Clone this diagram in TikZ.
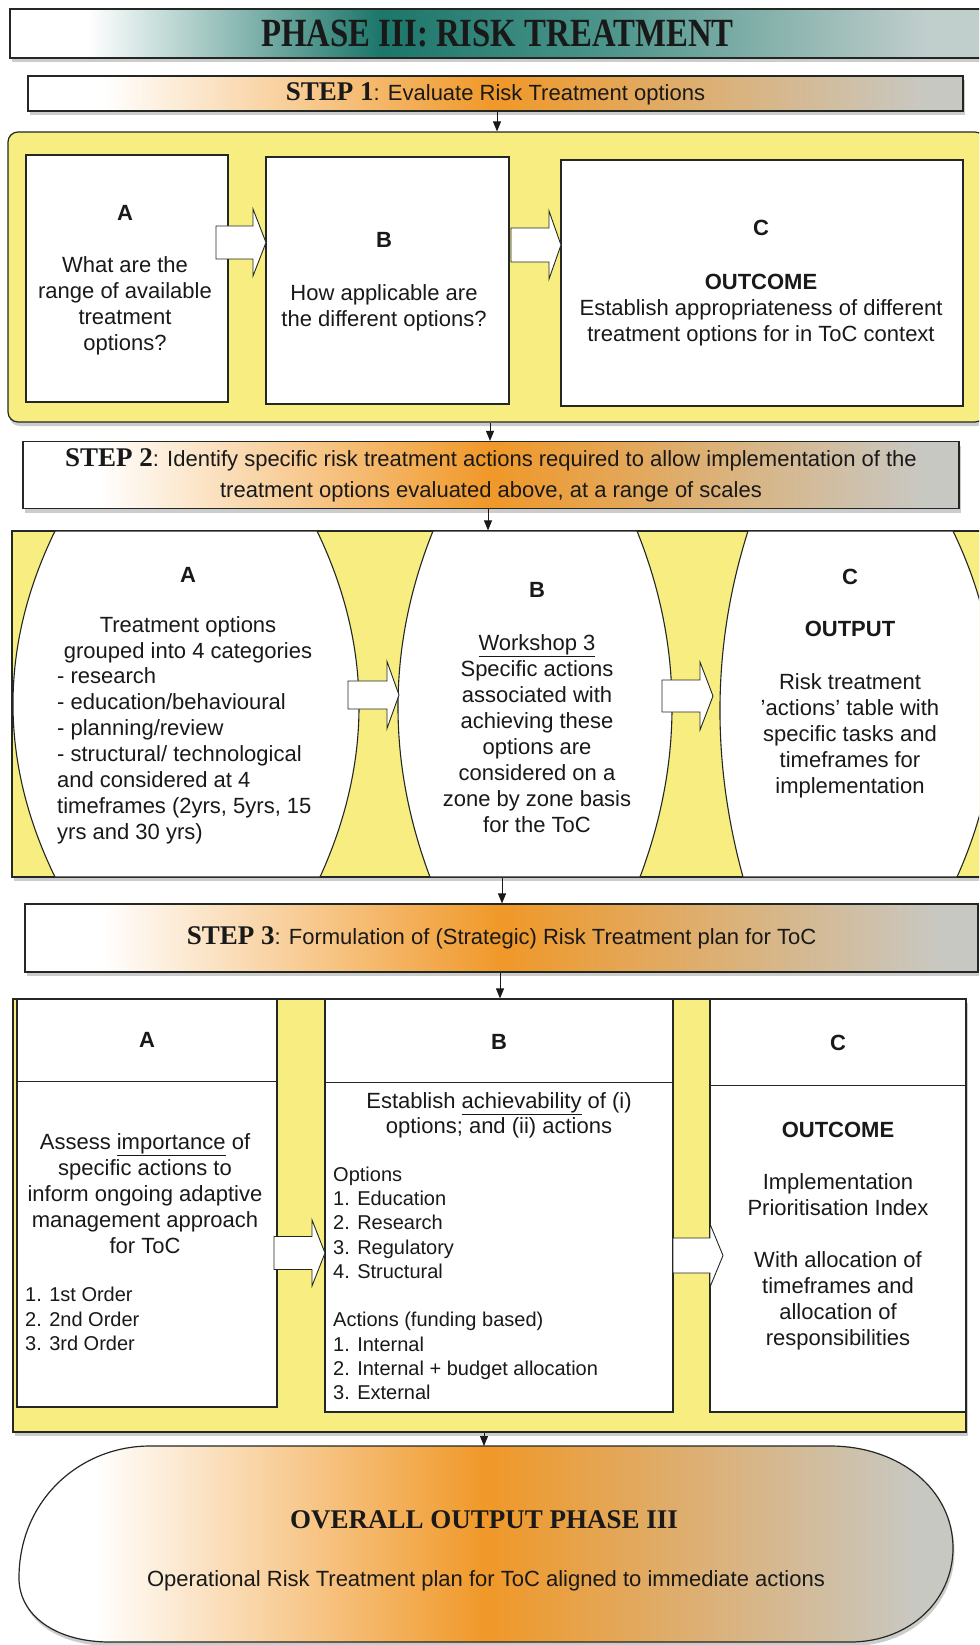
\documentclass[tikz,border=0pt]{standalone}
\usepackage{fontspec}
\setmainfont{Liberation Sans}
\newfontfamily\headfont{Liberation Serif}
\newfontfamily\titlefont{Liberation Serif}[FakeStretch=0.82]
\usetikzlibrary{arrows.meta,shadows,calc}

\definecolor{panelyellow}{RGB}{247,237,128}
\definecolor{stepor}{RGB}{240,152,40}
\definecolor{stepgray}{RGB}{200,200,194}
\definecolor{tealdark}{RGB}{28,118,106}
\definecolor{tealmid}{RGB}{78,150,140}
\definecolor{tealgray}{RGB}{192,206,204}
\definecolor{inkline}{RGB}{35,40,35}
\definecolor{ink}{RGB}{25,25,25}

% white -> orange -> grey band used by the step bars and the final output
\pgfdeclarehorizontalshading{stepshade}{100bp}{%
  color(0bp)=(white); color(25bp)=(white); color(29bp)=(white);
  color(50bp)=(stepor); color(73bp)=(stepgray); color(100bp)=(stepgray)}
% white -> teal -> grey band of the phase banner
\pgfdeclarehorizontalshading{titleshade}{100bp}{%
  color(0bp)=(white); color(25bp)=(white); color(29bp)=(white);
  color(44bp)=(tealdark); color(56bp)=(tealmid); color(72bp)=(tealgray);
  color(100bp)=(tealgray)}

\newcommand\stephead[1]{{\headfont\bfseries\fontsize{27}{30}\selectfont #1}}
% block arrow: body from x=#1 to x=#2, tip at x=#3, axis y=#4,
% body half height #5, head half height #6
\newcommand\blockarrow[6]{%
  \draw[blockarrowstyle] (#1,#4-#5) -- (#2,#4-#5) -- (#2,#4-#6) -- (#3,#4)
    -- (#2,#4+#6) -- (#2,#4+#5) -- (#1,#4+#5) -- cycle;}
% barrel between y=531 and y=877: left top/bottom x, left bulge,
% right top/bottom x, right bulge
\newcommand\barrel[6]{%
  \draw[barrelstyle] (#1,531) -- (#4,531)
    .. controls ({(#4+#5)/2+4*#6/3},646) and ({(#4+#5)/2+4*#6/3},762) .. (#5,877)
    -- (#2,877)
    .. controls ({(#1+#2)/2-4*#3/3},762) and ({(#1+#2)/2-4*#3/3},646) .. (#1,531)
    -- cycle;}

\begin{document}
\begin{tikzpicture}[x=1pt,y=-1pt,
  body/.style={font=\fontsize{22}{26}\selectfont, text=ink, inner sep=0pt, align=center},
  listtext/.style={font=\fontsize{20}{24.3}\selectfont, text=ink, inner sep=0pt, align=left},
  frame/.style={draw=inkline, line width=1.2pt},
  shadowed/.style={drop shadow={opacity=0.4, shadow xshift=1.5pt, shadow yshift=-4pt}},
  stepbox/.style={frame, shade, shading=stepshade, shadowed, inner sep=0pt, text=ink,
    font=\fontsize{22}{31}\selectfont, align=center},
  whitebox/.style={frame, fill=white, inner sep=0pt},
  panel/.style={frame, fill=panelyellow, shadowed, inner sep=0pt},
  barrelstyle/.style={draw=inkline, line width=1.1pt, fill=white},
  blockarrowstyle/.style={draw=inkline, line width=0.9pt, fill=white, line join=miter},
  conn/.style={draw=ink, line width=1pt, -{Triangle[width=8pt,length=10pt]}},
]
\useasboundingbox (0,0) rectangle (979,1645);
\fill[white] (0,0) rectangle (979,1645);
\clip (0,0) rectangle (979,1645);

% ---------- banner ----------
\node[frame, shade, shading=titleshade, shadowed, minimum width=975pt,
  minimum height=49pt, inner sep=0pt, text=ink,
  font=\titlefont\bfseries\fontsize{40}{44}\selectfont] (title) at (497.5,33.5)
  {PHASE III: RISK TREATMENT};

% ---------- step 1 ----------
\node[stepbox, minimum width=935pt, minimum height=35pt] (step1) at (495.5,93.5)
  {\stephead{STEP 1}: Evaluate Risk Treatment options};

\node[panel, rounded corners=10pt, minimum width=977pt, minimum height=290pt]
  (panel1) at (496.5,277) {};
\coordinate (k1) at ([xshift=1.5pt]step1.south);
\draw[conn] (k1) -- (k1 |- panel1.north);

\node[whitebox, minimum width=202pt, minimum height=247pt] (boxA1) at (127,278.5) {};
\node[whitebox, minimum width=243pt, minimum height=247pt] (boxB1) at (387.5,280.5) {};
\node[whitebox, minimum width=402pt, minimum height=246pt] (boxC1) at (762,283) {};

\node[body, anchor=north] (txtA1) at (125,205)
  {\textbf{A}\\[26pt] What are the\\ range of available\\ treatment\\ options?};
\node[body, anchor=north] (txtB1) at (384,232)
  {\textbf{B}\\[27pt] How applicable are\\ the different options?};
\node[body, anchor=north] (txtC1) at (761,220)
  {\textbf{C}\\[28pt] \textbf{OUTCOME}\\ Establish appropriateness of different\\
   treatment options for in ToC context};

\blockarrow{216}{253}{266}{242.5}{16.5}{33.5}
\blockarrow{511}{549}{561}{245}{17}{34}

% ---------- step 2 ----------
\node[stepbox, minimum width=936pt, minimum height=67pt] (step2) at (491,475)
  {\stephead{STEP 2}: Identify specific risk treatment actions required to allow implementation of the\\
   treatment options evaluated above, at a range of scales};
\coordinate (k2) at ([xshift=-6.5pt]panel1.south);
\draw[conn] (k2) -- (k2 |- step2.north);

\node[panel, minimum width=973pt, minimum height=346pt] (panel2) at (498.5,704) {};
\coordinate (k3) at ([xshift=-3pt]step2.south);
\draw[conn] (k3) -- (k3 |- panel2.north);

\barrel{55}{55}{42}{317}{320}{40.5}
\barrel{433}{430}{33.5}{637}{640}{33.5}
\barrel{748}{743}{25.5}{953}{957}{40}

\node[body, anchor=north] (txtA2) at (188,567)
  {\textbf{A}\\[24pt] Treatment options\\ grouped into 4 categories};
\node[body, align=left, anchor=north west] (listA2) at (57,667.5)
  {- research\\ - education/behavioural\\ - planning/review\\ - structural/ technological\\
   and considered at 4\\ timeframes (2yrs, 5yrs, 15\\ yrs and 30 yrs)};
\node[body, anchor=north] (txtB2) at (537,582)
  {\textbf{B}\\[27pt] \underline{Workshop 3}\\ Specific actions\\ associated with\\ achieving these\\
   options are\\ considered on a\\ zone by zone basis\\ for the ToC};
\node[body, anchor=north] (txtC2) at (850,569)
  {\textbf{C}\\[26pt] \textbf{OUTPUT}\\[27pt] Risk treatment\\ 'actions' table with\\
   specific tasks and\\ timeframes for\\ implementation};

\blockarrow{348}{387}{399}{695}{14}{33.5}
\blockarrow{662}{700}{713}{696}{16}{34}

% ---------- step 3 ----------
\node[stepbox, minimum width=953pt, minimum height=68pt] (step3) at (501.5,938)
  {\stephead{STEP 3}: Formulation of (Strategic) Risk Treatment plan for ToC};
\coordinate (k4) at ([xshift=3.5pt]panel2.south);
\draw[conn] (k4) -- (k4 |- step3.north);

\node[panel, minimum width=953pt, minimum height=433pt] (panel3) at (489.5,1215.5) {};
\coordinate (k5) at ([xshift=-1.5pt]step3.south);
\draw[conn] (k5) -- (k5 |- panel3.north);

\node[whitebox, minimum width=260pt, minimum height=408pt] (boxA3) at (147,1203) {};
\node[whitebox, minimum width=348pt, minimum height=413pt] (boxB3) at (499,1205.5) {};
\node[whitebox, minimum width=256pt, minimum height=413pt] (boxC3) at (838,1205.5) {};
\draw[frame] ($(boxA3.north west)+(0,83)$) -- ($(boxA3.north east)+(0,83)$);
\draw[frame] ($(boxB3.north west)+(0,84)$) -- ($(boxB3.north east)+(0,84)$);
\draw[frame] ($(boxC3.north west)+(0,87)$) -- ($(boxC3.north east)+(0,87)$);

\node[body, font=\bfseries\fontsize{22}{26}\selectfont] (headA3) at (147,1040) {A};
\node[body, font=\bfseries\fontsize{22}{26}\selectfont] (headB3) at (499,1042) {B};
\node[body, font=\bfseries\fontsize{22}{26}\selectfont] (headC3) at (838,1043) {C};

\node[body, anchor=north] (txtA3) at (145,1133.5)
  {Assess \underline{importance} of\\ specific actions to\\ inform ongoing adaptive\\
   management approach\\ for ToC};
\node[listtext, anchor=north west] (listA3) at (25,1287)
  {1. 1st Order\\ 2. 2nd Order\\ 3. 3rd Order};
\node[body, anchor=north, font=\fontsize{22}{25}\selectfont] (txtB3) at (499,1092.5)
  {Establish \underline{achievability} of (i)\\ options; and (ii) actions};
\node[listtext, anchor=north west] (listB3) at (333,1166.5)
  {Options\\ 1. Education\\ 2. Research\\ 3. Regulatory\\ 4. Structural\\[24.2pt]
   Actions (funding based)\\ 1. Internal\\ 2. Internal + budget allocation\\ 3. External};
\node[body, anchor=north] (txtC3) at (838,1122)
  {\textbf{OUTCOME}\\[26pt] Implementation\\ Prioritisation Index\\[26pt]
   With allocation of\\ timeframes and\\ allocation of\\ responsibilities};

\blockarrow{274}{312}{325}{1253}{16.5}{33}
\blockarrow{673}{710}{723}{1255.5}{17.5}{31.5}

% ---------- overall output ----------
\path[frame, shade, shading=stepshade, shadowed]
  (150,1446) -- (830,1446)
  .. controls (900,1446) and (953,1490) .. (953,1548)
  .. controls (953,1600) and (910,1642) .. (850,1642)
  -- (110,1642)
  .. controls (55,1642) and (19,1615) .. (19,1578)
  .. controls (19,1500) and (80,1446) .. (150,1446) -- cycle;
\coordinate (ovaltop) at (484,1446);
\coordinate (k6) at ([xshift=-5.5pt]panel3.south);
\draw[conn] (k6) -- (k6 |- ovaltop);

\node[text=ink, inner sep=0pt, font=\headfont\bfseries\fontsize{27}{30}\selectfont]
  (overall) at (484,1520) {OVERALL OUTPUT PHASE III};
\node[body] (overalltxt) at (486,1581)
  {Operational Risk Treatment plan for ToC aligned to immediate actions};
\end{tikzpicture}
\end{document}
